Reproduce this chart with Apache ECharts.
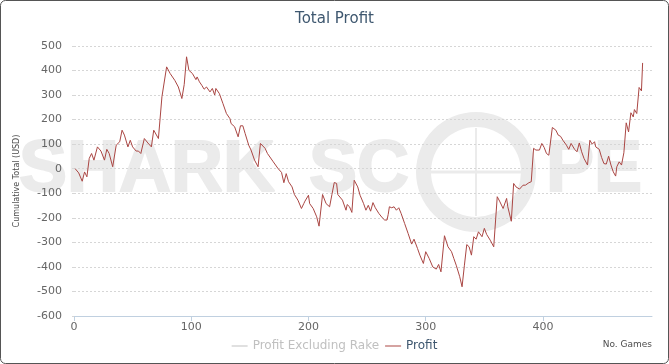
<!DOCTYPE html>
<html>
<head>
<meta charset="utf-8">
<script src="https://cdn.jsdelivr.net/npm/echarts@6/dist/echarts.min.js"></script>
<style>html,body{margin:0;padding:0;background:#fff;}#c{width:669px;height:364px;}</style>
</head>
<body>
<div id="c"></div>
<script>
var titleText = 'Total Profit';
var yAxisTitle = 'Cumulative Total (USD)';
var xAxisTitle = 'No. Games';
var seriesNames = ['Profit Excluding Rake', 'Profit'];
var games = [1,4,7,9,11,13,15,17,18,20,23,26,28,30,33,36,37,39,41,43,46,48,50,53,55,57,58,60,63,66,68,72,75,79,82,86,89,92,94,96,98,101,104,105,107,109,111,113,116,118,120,121,124,127,130,133,134,137,140,142,144,146,149,151,154,157,159,163,165,170,174,177,179,181,183,186,188,191,194,196,197,200,201,204,207,209,212,215,218,220,222,224,225,229,232,233,235,237,239,242,244,247,249,251,253,255,257,260,263,265,267,268,269,271,273,275,277,279,282,285,288,290,293,295,298,300,303,306,309,311,313,316,319,322,324,326,329,331,333,335,337,339,341,343,345,348,350,352,355,358,361,363,366,369,370,373,375,377,380,383,385,388,390,392,394,395,397,399,401,403,405,408,411,413,415,417,420,422,424,427,429,431,433,435,438,440,442,444,445,448,450,452,454,456,458,460,462,463,465,467,469,471,473,475,477,478,480,482,484,485];
var profit = [0,-17,-51,-13,-33,42,62,35,28,89,72,35,79,62,8,96,89,110,157,137,89,116,89,72,72,62,55,123,105,89,157,123,293,415,388,360,333,286,343,456,401,388,363,374,354,340,324,333,313,327,300,327,306,266,225,204,184,171,130,175,175,143,96,76,35,8,103,83,62,28,1,-15,-57,-20,-53,-74,-105,-128,-162,-142,-132,-108,-142,-162,-196,-234,-105,-142,-155,-105,-56,-60,-105,-128,-169,-146,-155,-178,-47,-74,-108,-142,-169,-149,-173,-138,-159,-182,-200,-209,-209,-186,-155,-159,-155,-169,-159,-182,-223,-264,-307,-287,-325,-352,-386,-338,-366,-400,-409,-390,-420,-273,-318,-338,-366,-393,-440,-481,-393,-309,-318,-352,-277,-287,-257,-277,-243,-268,-291,-318,-114,-132,-162,-121,-155,-214,-60,-74,-83,-67,-67,-57,-53,83,76,83,76,103,87,62,55,168,157,137,132,116,96,79,103,79,69,105,69,42,15,116,100,110,89,79,46,21,19,51,15,-13,-30,8,28,15,65,187,150,228,211,241,225,331,317,431];
var profitExRake = [];
var yMin = -600, yMax = 500, yStep = 100;
var xMin = 0, xMax = 493, xStep = 100;

var profitData = games.map(function (g, i) { return [g, profit[i]]; });
var wm = '#ebebeb';
var chart = echarts.init(document.getElementById('c'), null, {renderer: 'canvas'});
var font = 'DejaVu Sans';
var wmStyle = function (t) { return {text: t, fill: wm, stroke: wm, lineWidth: 2, font: 'bold 72px "Liberation Sans"'}; };
chart.setOption({
  animation: false,
  backgroundColor: '#ffffff',
  title: {
    text: titleText, left: 'center', top: 7,
    textStyle: {fontFamily: font, fontSize: 15, fontWeight: 'normal', color: '#3E576F'}
  },
  grid: {left: 74, right: 17, top: 46, bottom: 48},
  legend: {
    data: seriesNames, bottom: 7, left: 'center', itemGap: 6,
    icon: 'rect', itemWidth: 16, itemHeight: 1,
    selected: {'Profit Excluding Rake': false},
    inactiveColor: '#C0C0C0',
    textStyle: {fontFamily: font, fontSize: 12, color: '#3E576F'}
  },
  xAxis: {
    type: 'value', min: xMin, max: xMax, interval: xStep,
    name: xAxisTitle, nameLocation: 'end', nameGap: 0,
    nameTextStyle: {fontFamily: font, fontSize: 9, color: '#4d4d4d', align: 'right', verticalAlign: 'top', padding: [24, 0, 0, 0]},
    axisLine: {onZero: false, lineStyle: {color: '#C0D0E0'}},
    axisTick: {length: 5, lineStyle: {color: '#C0D0E0'}},
    axisLabel: {fontFamily: font, fontSize: 11, color: '#666666', margin: 6, showMaxLabel: false},
    splitLine: {show: false}
  },
  yAxis: {
    type: 'value', min: yMin, max: yMax, interval: yStep,
    name: yAxisTitle, nameLocation: 'middle', nameGap: 53,
    nameTextStyle: {fontFamily: font, fontSize: 8, color: '#4d4d4d'},
    axisLine: {show: false},
    axisTick: {show: true, length: 4, lineStyle: {color: '#d6d6d6', type: [2, 2]}},
    axisLabel: {fontFamily: font, fontSize: 11, color: '#666666', margin: 12},
    splitLine: {lineStyle: {color: '#d6d6d6', type: [2, 2]}}
  },
  graphic: [
    {type: 'rect', z: 100, silent: true, shape: {x: 0.5, y: 0.5, width: 668, height: 363, r: 5}, style: {fill: 'none', stroke: '#555555', lineWidth: 1}},
    {type: 'text', z: -10, silent: true, left: 18, top: 134, style: wmStyle('SHARK')},
    {type: 'text', z: -10, silent: true, left: 308, top: 134, style: wmStyle('SC')},
    {type: 'text', z: -10, silent: true, left: 545, top: 134, style: wmStyle('PE')},
    {type: 'ring', z: -10, silent: true, shape: {cx: 476, cy: 172, r: 60, r0: 45}, style: {fill: wm}},
    {type: 'line', z: -10, silent: true, shape: {x1: 428, y1: 172, x2: 524, y2: 172}, style: {stroke: wm, lineWidth: 3}},
    {type: 'line', z: -10, silent: true, shape: {x1: 476, y1: 128, x2: 476, y2: 216}, style: {stroke: wm, lineWidth: 2}}
  ],
  series: [
    {name: seriesNames[0], type: 'line', data: profitExRake, showSymbol: false, color: '#4572A7', lineStyle: {width: 1}},
    {name: seriesNames[1], type: 'line', data: profitData, showSymbol: false, color: '#AA4643', lineStyle: {width: 1}}
  ]
});
</script>
</body>
</html>
